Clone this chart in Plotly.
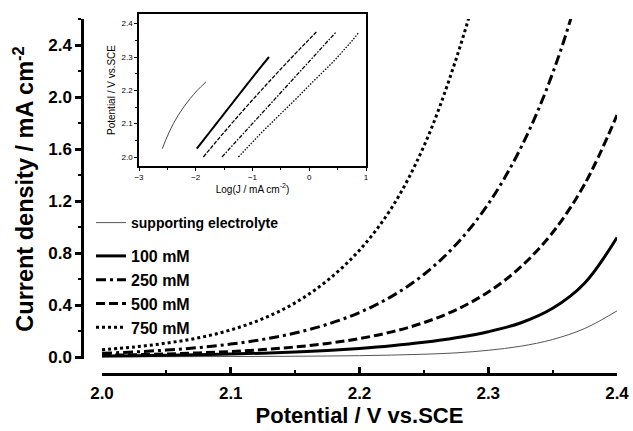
import numpy as np
import plotly.graph_objects as go

# ---------------- data ----------------
potential = [2.000, 2.025, 2.050, 2.075, 2.100, 2.125, 2.150, 2.175, 2.200,
             2.225, 2.250, 2.275, 2.300, 2.325, 2.350, 2.375, 2.400]

j_supporting = [0.0023, 0.00258, 0.00294, 0.00341, 0.00403, 0.0049, 0.00614, 0.00794, 0.01067,
                0.01507, 0.0218, 0.032, 0.052, 0.083, 0.135, 0.220, 0.355]
j_100mM = [0.0080, 0.01042, 0.01358, 0.0177, 0.02307, 0.0300, 0.0391, 0.0509, 0.0664,
           0.0865, 0.113, 0.148, 0.195, 0.262, 0.375, 0.570, 0.920]
j_250mM = [0.0290, 0.0394, 0.0537, 0.0731, 0.0995, 0.1358, 0.1849, 0.2518, 0.3428,
           0.4667, 0.6353, 0.8650, 1.1776, 1.6032, 2.1827, 2.9785, 4.0551]
j_500mM = [0.0136, 0.01803, 0.02396, 0.03195, 0.04277, 0.05745, 0.07745, 0.1047, 0.1422,
           0.1937, 0.2648, 0.3633, 0.500, 0.6909, 0.9579, 1.332, 1.861]
j_750mM = [0.0564, 0.0776, 0.1072, 0.1479, 0.2089, 0.2951, 0.4169, 0.5888, 0.8222,
           1.148, 1.622, 2.291, 3.162, 4.266, 5.754, 7.586, 10.00]

series_names = ["supporting electrolyte", "100 mM", "250 mM", "500 mM", "750 mM"]
series_values = [j_supporting, j_100mM, j_250mM, j_500mM, j_750mM]
# potential window shown in the Tafel inset for each series
inset_start = [2.025, 2.025, 2.000, 2.000, 2.000]
inset_end = [2.225, 2.300, 2.375, 2.375, 2.375]

main_x_ticks = [2.0, 2.1, 2.2, 2.3, 2.4]
main_y_ticks = [0.0, 0.4, 0.8, 1.2, 1.6, 2.0, 2.4]

# ---------------- styles ----------------
W, H = 633, 431
FONT = "Liberation Sans, Arial, sans-serif"
main_styles = [
    dict(color="#555555", width=1, dash="solid"),
    dict(color="black", width=3, dash="solid"),
    dict(color="black", width=3, dash="10px,4px,3px,4px"),
    dict(color="black", width=3, dash="9px,4px"),
    dict(color="black", width=3, dash="3px,3px"),
]
inset_styles = [
    dict(color="#333333", width=0.9, dash="solid"),
    dict(color="black", width=2, dash="solid"),
    dict(color="black", width=1.3, dash="4px,1.5px,1.5px,1.5px"),
    dict(color="black", width=1.3, dash="4px,1.5px"),
    dict(color="black", width=1.3, dash="1.5px,1.5px"),
]


def px_x(p):
    return p / W


def px_y(p):
    return (H - p) / H


fig = go.Figure()

E = np.array(potential)
for i, (name, vals) in enumerate(zip(series_names, series_values)):
    fig.add_trace(go.Scatter(
        x=potential, y=vals, mode="lines", name=name,
        line=dict(shape="spline", **main_styles[i]),
        legend="legend" if i == 0 else "legend2",
        xaxis="x", yaxis="y",
    ))

for i, vals in enumerate(series_values):
    mask = (E >= inset_start[i] - 1e-9) & (E <= inset_end[i] + 1e-9)
    fig.add_trace(go.Scatter(
        x=np.log10(np.array(vals)[mask]), y=E[mask], mode="lines",
        line=dict(shape="spline", **inset_styles[i]),
        showlegend=False, xaxis="x2", yaxis="y2",
    ))

bold = dict(family=FONT, color="black", weight="bold")

fig.update_layout(
    template="none",
    width=W, height=H,
    margin=dict(l=0, r=0, t=0, b=0, autoexpand=False),
    paper_bgcolor="white", plot_bgcolor="white",
    font=dict(family=FONT, color="black"),
    xaxis=dict(
        domain=[px_x(102), px_x(617)], range=[2.0, 2.4],
        anchor="free", position=px_y(373.5), automargin=False,
        showline=True, linecolor="black", linewidth=2.5,
        ticks="inside", ticklen=6, tickwidth=2.5, tickcolor="black",
        tickvals=main_x_ticks, tickformat=".1f",
        minor=dict(dtick=0.05, tick0=2.0, ticks="inside", ticklen=3, tickwidth=2, tickcolor="black"),
        showgrid=False, zeroline=False,
        tickfont=dict(size=17, **bold), ticklabelstandoff=3,
        title=dict(text="Potential / V vs.SCE", font=dict(size=22, **bold), standoff=2),
    ),
    yaxis=dict(
        domain=[px_y(359), px_y(19)], range=[-0.015, 2.6],
        anchor="free", position=px_x(82), automargin=False,
        showline=True, linecolor="black", linewidth=2.5,
        ticks="outside", ticklen=6, tickwidth=2.5, tickcolor="black",
        tickvals=main_y_ticks, tickformat=".1f",
        minor=dict(dtick=0.2, tick0=0, ticks="outside", ticklen=3, tickwidth=2, tickcolor="black"),
        showgrid=False, zeroline=False,
        tickfont=dict(size=17, **bold),
        title=dict(text="Current density / mA cm<sup>-2</sup>", font=dict(size=23.5, **bold), standoff=6),
    ),
    xaxis2=dict(
        domain=[px_x(139), px_x(366)], range=[-3, 1], anchor="y2", automargin=False,
        showline=True, mirror=True, linecolor="black", linewidth=1.5,
        ticks="outside", ticklen=3, tickwidth=1, tickcolor="black", dtick=1,
        minor=dict(dtick=0.5, ticks="outside", ticklen=2, tickwidth=1, tickcolor="black"),
        showgrid=False, zeroline=False,
        tickfont=dict(size=8, family=FONT, color="black"),
        title=dict(text="Log(J / mA cm<sup>-2</sup>)", font=dict(size=10, family=FONT), standoff=4),
    ),
    yaxis2=dict(
        domain=[px_y(166), px_y(14)], range=[1.973, 2.429], anchor="x2", automargin=False,
        showline=True, mirror=True, linecolor="black", linewidth=1.5,
        ticks="outside", ticklen=3, tickwidth=1, tickcolor="black",
        tick0=2.0, dtick=0.1, tickformat=".1f",
        minor=dict(dtick=0.05, tick0=2.0, ticks="outside", ticklen=2, tickwidth=1, tickcolor="black"),
        showgrid=False, zeroline=False,
        tickfont=dict(size=8, family=FONT, color="black"),
        title=dict(text="Potential / V vs.SCE", font=dict(size=10, family=FONT), standoff=4),
    ),
    legend=dict(
        x=px_x(91), y=px_y(223), xanchor="left", yanchor="middle",
        bgcolor="rgba(0,0,0,0)", borderwidth=0,
        font=dict(size=14, **bold),
    ),
    legend2=dict(
        x=px_x(91), y=px_y(292), xanchor="left", yanchor="middle",
        bgcolor="rgba(0,0,0,0)", borderwidth=0,
        font=dict(size=16, **bold), tracegroupgap=0,
    ),
)

fig.write_html(
    "out.html",
    config={"displayModeBar": False},
    post_script="document.body.style.margin='0px';document.body.style.overflow='hidden';",
)
